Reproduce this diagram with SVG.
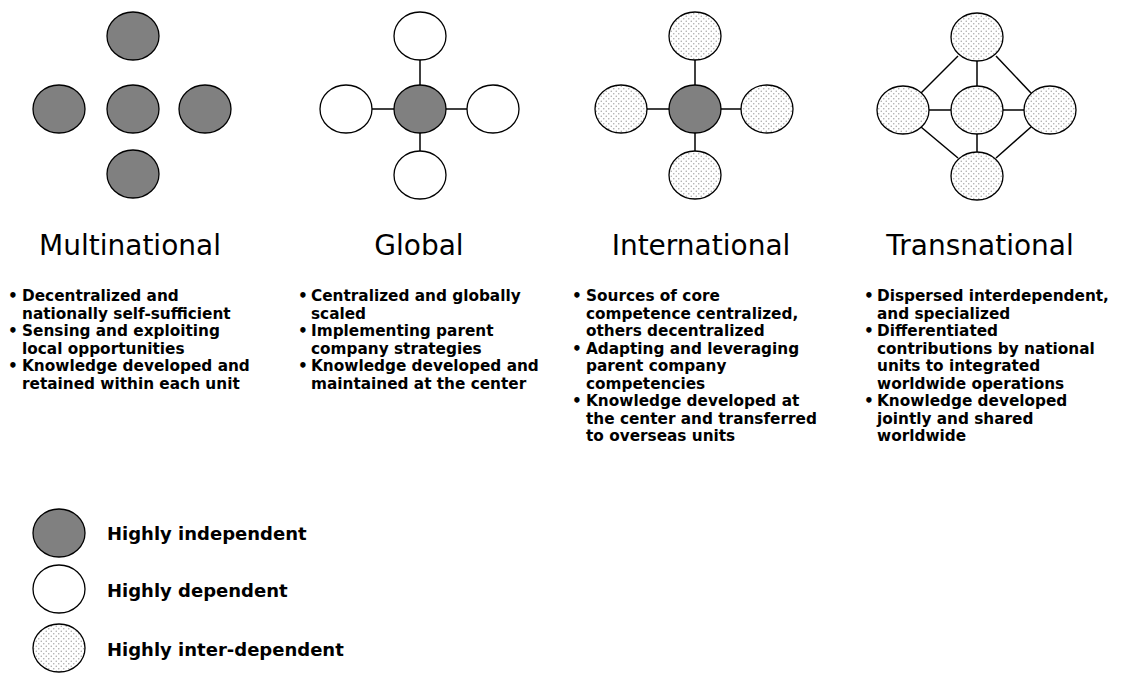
<svg xmlns="http://www.w3.org/2000/svg" width="1126" height="673" viewBox="0 0 1126 673">
<defs>
  <pattern id="dots" width="5" height="5" patternUnits="userSpaceOnUse">
    <rect width="5" height="5" fill="#ffffff"/>
    <circle cx="1.25" cy="1.25" r="0.75" fill="#a6a6a6"/>
    <circle cx="3.75" cy="3.75" r="0.75" fill="#a6a6a6"/>
  </pattern>
</defs>
<style>
  .ind { fill: #808080; stroke: #000; stroke-width: 1.3; }
  .dep { fill: #ffffff; stroke: #000; stroke-width: 1.3; }
  .inter { fill: url(#dots); stroke: #000; stroke-width: 1.3; }
  .link { stroke: #000; stroke-width: 1.5; fill: none; }
  .title { font-family: "DejaVu Sans", Verdana, sans-serif; font-size: 28px; fill: #000; text-anchor: middle; }
  .body { font-family: "DejaVu Sans", Verdana, sans-serif; font-size: 15.3px; font-weight: bold; fill: #000; }
  .leg { font-family: "DejaVu Sans", Verdana, sans-serif; font-size: 18px; font-weight: bold; fill: #000; }
</style>
<rect width="1126" height="673" fill="#ffffff"/>

<g id="connectors">
  <line class="link" x1="420" y1="36" x2="420" y2="175"/>
  <line class="link" x1="346" y1="109" x2="493" y2="109"/>
  <line class="link" x1="695" y1="36" x2="695" y2="175"/>
  <line class="link" x1="621" y1="109" x2="767" y2="109"/>
  <line class="link" x1="977" y1="37" x2="977" y2="176"/>
  <line class="link" x1="903" y1="110" x2="1050" y2="110"/>
  <line class="link" x1="958" y1="56" x2="921" y2="93"/>
  <line class="link" x1="996" y1="56" x2="1031" y2="93"/>
  <line class="link" x1="921" y1="127" x2="958" y2="158"/>
  <line class="link" x1="1031" y1="127" x2="996" y2="158"/>
</g>

<g id="multinational">
  <ellipse class="ind" cx="133" cy="36" rx="26" ry="24"/>
  <ellipse class="ind" cx="59" cy="109" rx="26" ry="24"/>
  <ellipse class="ind" cx="133" cy="109" rx="26" ry="24"/>
  <ellipse class="ind" cx="205" cy="109" rx="26" ry="24"/>
  <ellipse class="ind" cx="133" cy="174" rx="26" ry="24"/>
  <text class="title" x="130" y="255">Multinational</text>
  <text class="body" x="8" y="301">•</text><text class="body" x="22" y="301">Decentralized and</text>
  <text class="body" x="22" y="318.5">nationally self-sufficient</text>
  <text class="body" x="8" y="336">•</text><text class="body" x="22" y="336">Sensing and exploiting</text>
  <text class="body" x="22" y="353.5">local opportunities</text>
  <text class="body" x="8" y="371">•</text><text class="body" x="22" y="371">Knowledge developed and</text>
  <text class="body" x="22" y="388.5">retained within each unit</text>
</g>

<g id="global">
  <ellipse class="dep" cx="420" cy="36" rx="26" ry="24"/>
  <ellipse class="dep" cx="346" cy="109" rx="26" ry="24"/>
  <ellipse class="ind" cx="420" cy="109" rx="26" ry="24"/>
  <ellipse class="dep" cx="493" cy="109" rx="26" ry="24"/>
  <ellipse class="dep" cx="420" cy="175" rx="26" ry="24"/>
  <text class="title" x="419" y="255">Global</text>
  <text class="body" x="298" y="301">•</text><text class="body" x="311" y="301">Centralized and globally</text>
  <text class="body" x="311" y="318.5">scaled</text>
  <text class="body" x="298" y="336">•</text><text class="body" x="311" y="336">Implementing parent</text>
  <text class="body" x="311" y="353.5">company strategies</text>
  <text class="body" x="298" y="371">•</text><text class="body" x="311" y="371">Knowledge developed and</text>
  <text class="body" x="311" y="388.5">maintained at the center</text>
</g>

<g id="international">
  <ellipse class="inter" cx="695" cy="36" rx="26" ry="24"/>
  <ellipse class="inter" cx="621" cy="109" rx="26" ry="24"/>
  <ellipse class="ind" cx="695" cy="109" rx="26" ry="24"/>
  <ellipse class="inter" cx="767" cy="109" rx="26" ry="24"/>
  <ellipse class="inter" cx="695" cy="175" rx="26" ry="24"/>
  <text class="title" x="701" y="255">International</text>
  <text class="body" x="572" y="301">•</text><text class="body" x="586" y="301">Sources of core</text>
  <text class="body" x="586" y="318.5">competence centralized,</text>
  <text class="body" x="586" y="336">others decentralized</text>
  <text class="body" x="572" y="353.5">•</text><text class="body" x="586" y="353.5">Adapting and leveraging</text>
  <text class="body" x="586" y="371">parent company</text>
  <text class="body" x="586" y="388.5">competencies</text>
  <text class="body" x="572" y="406">•</text><text class="body" x="586" y="406">Knowledge developed at</text>
  <text class="body" x="586" y="423.5">the center and transferred</text>
  <text class="body" x="586" y="441">to overseas units</text>
</g>

<g id="transnational">
  <ellipse class="inter" cx="977" cy="37" rx="26" ry="24"/>
  <ellipse class="inter" cx="903" cy="110" rx="26" ry="24"/>
  <ellipse class="inter" cx="977" cy="110" rx="26" ry="24"/>
  <ellipse class="inter" cx="1050" cy="110" rx="26" ry="24"/>
  <ellipse class="inter" cx="977" cy="176" rx="26" ry="24"/>
  <text class="title" x="980" y="255">Transnational</text>
  <text class="body" x="864" y="301">•</text><text class="body" x="877" y="301">Dispersed interdependent,</text>
  <text class="body" x="877" y="318.5">and specialized</text>
  <text class="body" x="864" y="336">•</text><text class="body" x="877" y="336">Differentiated</text>
  <text class="body" x="877" y="353.5">contributions by national</text>
  <text class="body" x="877" y="371">units to integrated</text>
  <text class="body" x="877" y="388.5">worldwide operations</text>
  <text class="body" x="864" y="406">•</text><text class="body" x="877" y="406">Knowledge developed</text>
  <text class="body" x="877" y="423.5">jointly and shared</text>
  <text class="body" x="877" y="441">worldwide</text>
</g>

<g id="legend">
  <g id="legend-independent">
    <ellipse class="ind" cx="59" cy="533" rx="26" ry="24"/>
    <text class="leg" x="107" y="540">Highly independent</text>
  </g>
  <g id="legend-dependent">
    <ellipse class="dep" cx="59" cy="589" rx="26" ry="24"/>
    <text class="leg" x="107" y="597">Highly dependent</text>
  </g>
  <g id="legend-interdependent">
    <ellipse class="inter" cx="59" cy="648" rx="26" ry="24"/>
    <text class="leg" x="107" y="656">Highly inter-dependent</text>
  </g>
</g>
</svg>
